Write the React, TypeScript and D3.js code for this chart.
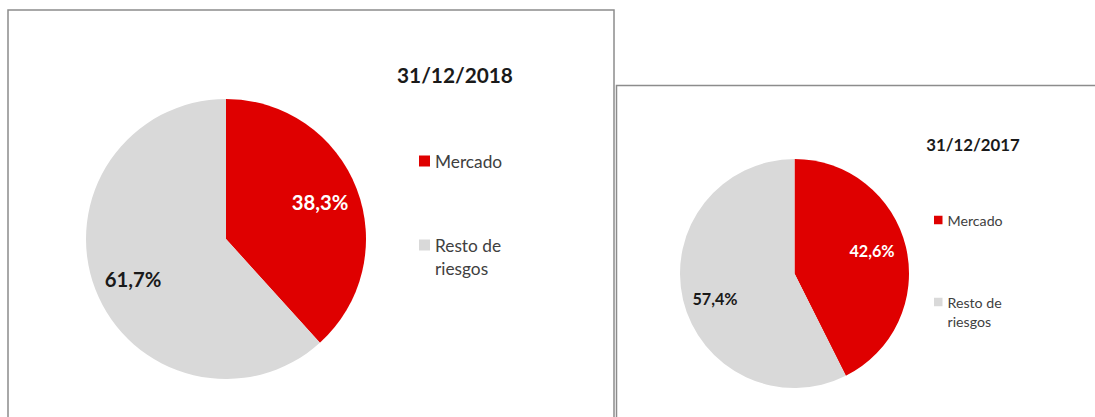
import React from "react";
import * as d3 from "d3";

const categories = ["Mercado", "Resto de riesgos"];
const values2018 = [38.3, 61.7];
const values2017 = [42.6, 57.4];
const titles = ["31/12/2018", "31/12/2017"];
const legendLines = [["Mercado"], ["Resto de", "riesgos"]];

const colors = ["#DF0000", "#D9D9D9"];
const labelColors = ["#FFFFFF", "#1A1A1A"];
const FONT = "Lato, 'Open Sans', sans-serif";

type PanelProps = {
  values: number[];
  title: string;
  box: { x: number; y: number; w: number; h: number };
  cx: number;
  cy: number;
  r: number;
  titlePos: [number, number];
  titleSize: number;
  legendX: number;
  legendYs: number[];
  legendSize: number;
  sq: number;
  lineGap: number;
  labelPos: [number, number][];
  labelSize: number;
};

function Panel(p: PanelProps) {
  const pie = d3.pie<number>().sort(null).value((d) => d);
  const arcs = pie(p.values);
  const arc = d3.arc<d3.PieArcDatum<number>>().innerRadius(0).outerRadius(p.r);
  const fmt = (v: number) => v.toFixed(1).replace(".", ",") + "%";
  return (
    <g>
      <rect x={p.box.x} y={p.box.y} width={p.box.w} height={p.box.h} fill="#fff" stroke="#8c8c8c" strokeWidth={1.5} />
      <g transform={`translate(${p.cx},${p.cy})`}>
        {arcs.map((a, i) => (
          <path key={i} d={arc(a) || ""} fill={colors[i]} />
        ))}
      </g>
      {arcs.map((a, i) => (
        <text key={"l" + i} x={p.labelPos[i][0]} y={p.labelPos[i][1]} textAnchor="middle" dominantBaseline="central"
          fontFamily={FONT} fontWeight={700} fontSize={p.labelSize} fill={labelColors[i]}>
          {fmt(a.data)}
        </text>
      ))}
      <text x={p.titlePos[0]} y={p.titlePos[1]} textAnchor="middle" dominantBaseline="central" fontFamily={FONT}
        fontWeight={700} fontSize={p.titleSize} fill="#1A1A1A">
        {p.title}
      </text>
      {categories.map((c, i) => (
        <g key={c}>
          <rect x={p.legendX} y={p.legendYs[i] - p.sq / 2} width={p.sq} height={p.sq} fill={colors[i]} />
          {legendLines[i].map((ln, j) => (
            <text key={j} x={p.legendX + p.sq + 5} y={p.legendYs[i] + j * p.lineGap} dominantBaseline="central"
              fontFamily={FONT} fontSize={p.legendSize} fill="#404040">
              {ln}
            </text>
          ))}
        </g>
      ))}
    </g>
  );
}

export default function App() {
  return (
    <svg width={1095} height={417} style={{ position: "absolute", left: 0, top: 0, background: "#fff" }}>
      <Panel
        values={values2018}
        title={titles[0]}
        box={{ x: 8, y: 10, w: 606, h: 420 }}
        cx={226}
        cy={239}
        r={140}
        titlePos={[455, 74]}
        titleSize={20.8}
        legendX={419}
        legendYs={[161, 245]}
        legendSize={17.3}
        sq={11}
        lineGap={23}
        labelPos={[[320, 202], [133, 279]]}
        labelSize={20.3}
      />
      <Panel
        values={values2017}
        title={titles[1]}
        box={{ x: 616.5, y: 85.5, w: 500, h: 340 }}
        cx={794.5}
        cy={273.5}
        r={114.5}
        titlePos={[973, 144]}
        titleSize={16.8}
        legendX={934}
        legendYs={[220, 302]}
        legendSize={14.2}
        sq={8.5}
        lineGap={19}
        labelPos={[[872, 250], [715, 298]]}
        labelSize={16.2}
      />
    </svg>
  );
}
